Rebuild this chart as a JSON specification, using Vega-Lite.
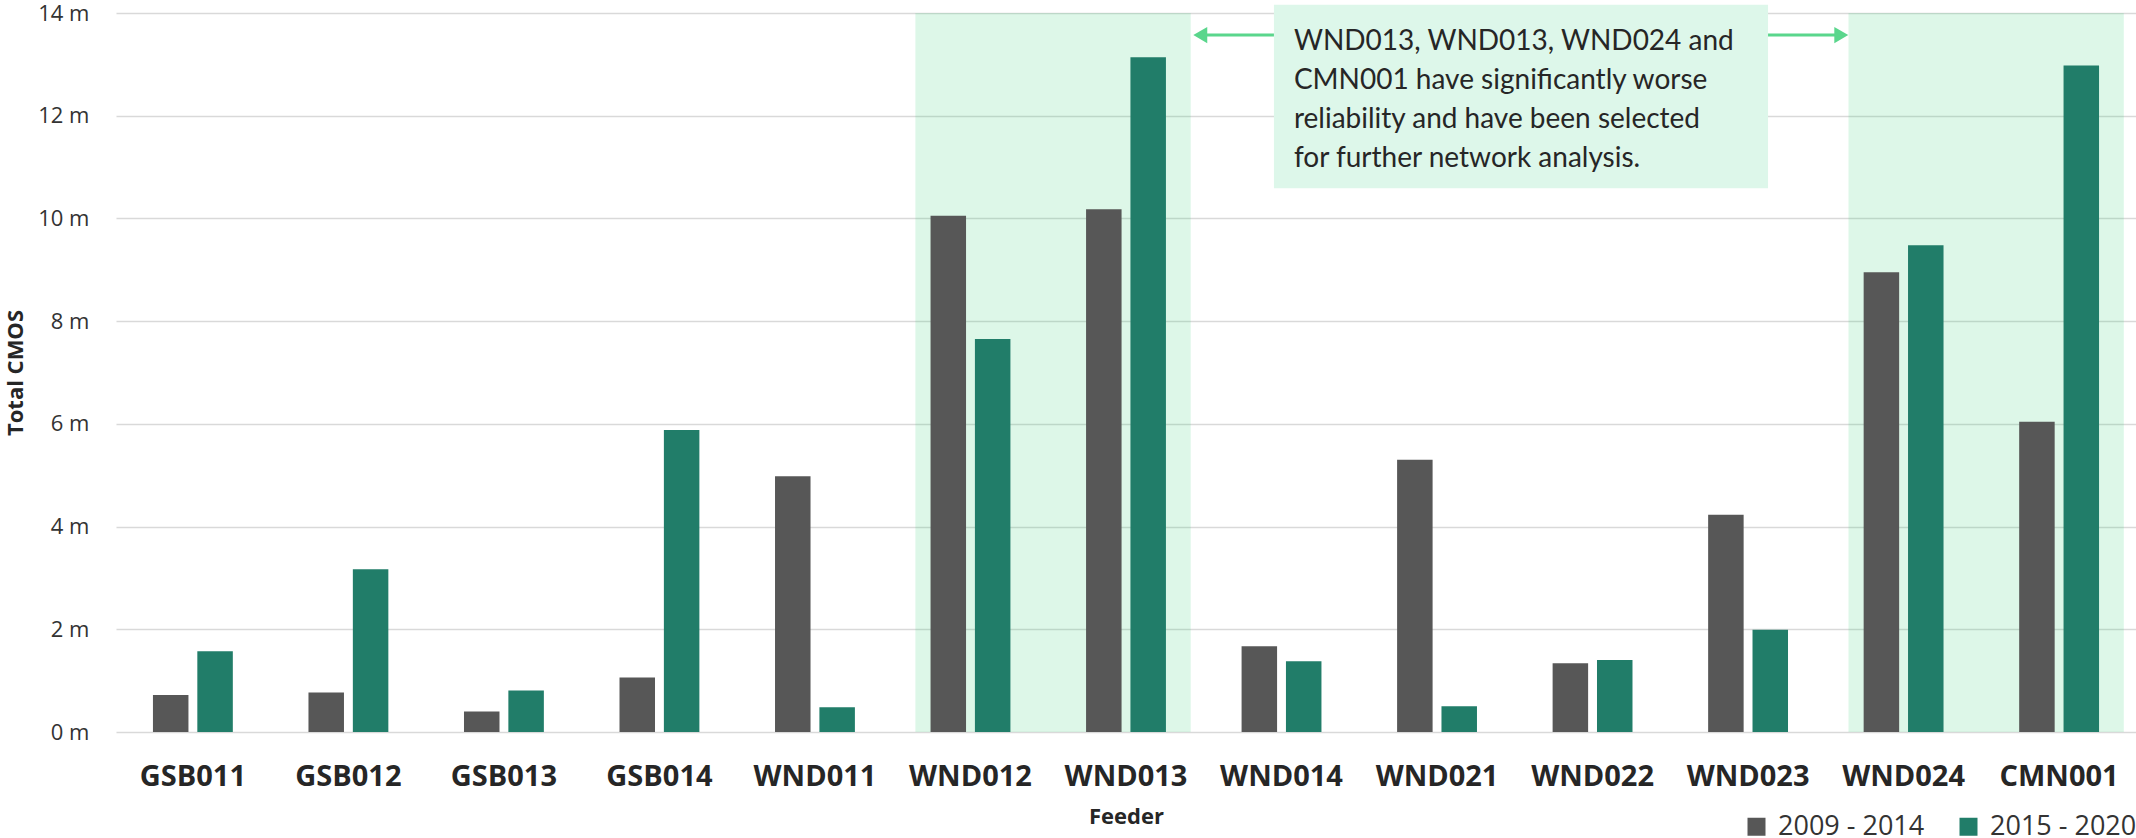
{
  "$schema": "https://vega.github.io/schema/vega-lite/v6.json",
  "width": 2020,
  "height": 719,
  "autosize": {"type": "none"},
  "padding": {"left": 116, "top": 13, "right": 0, "bottom": 106},
  "background": "white",
  "config": {
    "view": {"stroke": null},
    "font": "Open Sans"
  },
  "datasets": {
    "bars": [
      {"feeder": "GSB011", "period": "2009 - 2014", "cmos": 0.72},
      {"feeder": "GSB011", "period": "2015 - 2020", "cmos": 1.57},
      {"feeder": "GSB012", "period": "2009 - 2014", "cmos": 0.77},
      {"feeder": "GSB012", "period": "2015 - 2020", "cmos": 3.17},
      {"feeder": "GSB013", "period": "2009 - 2014", "cmos": 0.40},
      {"feeder": "GSB013", "period": "2015 - 2020", "cmos": 0.81},
      {"feeder": "GSB014", "period": "2009 - 2014", "cmos": 1.06},
      {"feeder": "GSB014", "period": "2015 - 2020", "cmos": 5.88},
      {"feeder": "WND011", "period": "2009 - 2014", "cmos": 4.98},
      {"feeder": "WND011", "period": "2015 - 2020", "cmos": 0.48},
      {"feeder": "WND012", "period": "2009 - 2014", "cmos": 10.05},
      {"feeder": "WND012", "period": "2015 - 2020", "cmos": 7.65},
      {"feeder": "WND013", "period": "2009 - 2014", "cmos": 10.18},
      {"feeder": "WND013", "period": "2015 - 2020", "cmos": 13.14},
      {"feeder": "WND014", "period": "2009 - 2014", "cmos": 1.67},
      {"feeder": "WND014", "period": "2015 - 2020", "cmos": 1.38},
      {"feeder": "WND021", "period": "2009 - 2014", "cmos": 5.30},
      {"feeder": "WND021", "period": "2015 - 2020", "cmos": 0.50},
      {"feeder": "WND022", "period": "2009 - 2014", "cmos": 1.34},
      {"feeder": "WND022", "period": "2015 - 2020", "cmos": 1.40},
      {"feeder": "WND023", "period": "2009 - 2014", "cmos": 4.23},
      {"feeder": "WND023", "period": "2015 - 2020", "cmos": 1.99},
      {"feeder": "WND024", "period": "2009 - 2014", "cmos": 8.95},
      {"feeder": "WND024", "period": "2015 - 2020", "cmos": 9.48},
      {"feeder": "CMN001", "period": "2009 - 2014", "cmos": 6.04},
      {"feeder": "CMN001", "period": "2015 - 2020", "cmos": 12.98}
    ],
    "highlights": [
      {"first": "WND012", "last": "WND013", "top": 14, "bottom": 0},
      {"first": "WND024", "last": "CMN001", "top": 14, "bottom": 0}
    ],
    "note": [
      {"first": "WND014", "last": "WND023", "top": 14.16, "bottom": 10.59, "texty": 13.71,
       "text": ["WND013, WND013, WND024 and", "CMN001 have significantly worse", "reliability and have been selected", "for further network analysis."]}
    ],
    "arrowLeft": [{"from": "WND013", "to": "WND014", "y": 13.57}],
    "arrowRight": [{"from": "WND023", "to": "WND024", "y": 13.57}]
  },
  "layer": [
    {
      "data": {"name": "highlights"},
      "mark": {"type": "rect", "fill": "#2ECC71", "opacity": 0.163},
      "encoding": {
        "x": {"field": "first", "type": "nominal", "bandPosition": -0.19},
        "x2": {"field": "last", "bandPosition": 1.31},
        "y": {"field": "top", "type": "quantitative"},
        "y2": {"field": "bottom"}
      }
    },
    {
      "data": {"name": "bars"},
      "mark": {"type": "bar"},
      "encoding": {
        "x": {
          "field": "feeder",
          "type": "nominal",
          "sort": null,
          "scale": {
            "domain": ["GSB011", "GSB012", "GSB013", "GSB014", "WND011", "WND012", "WND013", "WND014", "WND021", "WND022", "WND023", "WND024", "CMN001"],
            "paddingInner": 0.4864,
            "paddingOuter": 0.2376
          },
          "axis": {
            "title": "Feeder",
            "bandPosition": 0.5,
            "labelAngle": 0,
            "labelAlign": "center",
            "labelFont": "Open Sans",
            "labelFontWeight": "bold",
            "labelFontSize": 29,
            "labelColor": "#262626",
            "labelPadding": 44,
            "ticks": false,
            "tickSize": 0,
            "domain": false,
            "titleFont": "Open Sans",
            "titleFontWeight": "bold",
            "titleFontSize": 22,
            "titleColor": "#262626",
            "titlePadding": 15
          }
        },
        "xOffset": {
          "field": "period",
          "type": "nominal",
          "scale": {"paddingInner": 0.2, "paddingOuter": 0}
        },
        "y": {
          "field": "cmos",
          "type": "quantitative",
          "scale": {"domain": [0, 14], "nice": false},
          "axis": {
            "title": "Total CMOS",
            "values": [0, 2, 4, 6, 8, 10, 12, 14],
            "labelExpr": "datum.value + ' m'",
            "labelFont": "Open Sans",
            "labelFontSize": 22,
            "labelColor": "#333333",
            "labelPadding": 27,
            "ticks": false,
            "tickSize": 0,
            "domain": false,
            "grid": true,
            "gridColor": "#D9D9D9",
            "gridWidth": 1.6,
            "titleFont": "Open Sans",
            "titleFontWeight": "bold",
            "titleFontSize": 22,
            "titleColor": "#262626",
            "titlePadding": 10
          }
        },
        "color": {
          "field": "period",
          "type": "nominal",
          "scale": {"domain": ["2009 - 2014", "2015 - 2020"], "range": ["#575757", "#217D69"]},
          "legend": {
            "orient": "none",
            "legendX": 1627,
            "legendY": 800,
            "direction": "horizontal",
            "title": null,
            "symbolType": "square",
            "symbolSize": 324,
            "symbolStrokeWidth": 0,
            "labelFont": "Open Sans",
            "labelFontSize": 27,
            "labelColor": "#333333",
            "labelOffset": 8,
            "columnPadding": 30,
            "padding": 0
          }
        }
      }
    },
    {
      "data": {"name": "note"},
      "mark": {"type": "rect", "fill": "#DDF7EA"},
      "encoding": {
        "x": {"field": "first", "type": "nominal", "bandPosition": 0.405},
        "x2": {"field": "last", "bandPosition": 0.75},
        "y": {"field": "top", "type": "quantitative"},
        "y2": {"field": "bottom"}
      }
    },
    {
      "data": {"name": "note"},
      "mark": {"type": "text", "font": "Lato", "fontSize": 28, "lineHeight": 39, "align": "left", "baseline": "top", "color": "#262626"},
      "encoding": {
        "x": {"field": "first", "type": "nominal", "bandPosition": 0.655},
        "y": {"field": "texty", "type": "quantitative"},
        "text": {"field": "text"}
      }
    },
    {
      "data": {"name": "arrowLeft"},
      "mark": {"type": "rule", "color": "#5AD68C", "strokeWidth": 3},
      "encoding": {
        "x": {"field": "from", "type": "nominal", "bandPosition": 1.45},
        "x2": {"field": "to", "bandPosition": 0.405},
        "y": {"field": "y", "type": "quantitative"}
      }
    },
    {
      "data": {"name": "arrowLeft"},
      "mark": {"type": "point", "shape": "triangle-left", "filled": true, "color": "#5AD68C", "opacity": 1, "size": 260},
      "encoding": {
        "x": {"field": "from", "type": "nominal", "bandPosition": 1.43},
        "y": {"field": "y", "type": "quantitative"}
      }
    },
    {
      "data": {"name": "arrowRight"},
      "mark": {"type": "rule", "color": "#5AD68C", "strokeWidth": 3},
      "encoding": {
        "x": {"field": "from", "type": "nominal", "bandPosition": 0.75},
        "x2": {"field": "to", "bandPosition": -0.3},
        "y": {"field": "y", "type": "quantitative"}
      }
    },
    {
      "data": {"name": "arrowRight"},
      "mark": {"type": "point", "shape": "triangle-right", "filled": true, "color": "#5AD68C", "opacity": 1, "size": 260},
      "encoding": {
        "x": {"field": "to", "type": "nominal", "bandPosition": -0.28},
        "y": {"field": "y", "type": "quantitative"}
      }
    }
  ]
}
